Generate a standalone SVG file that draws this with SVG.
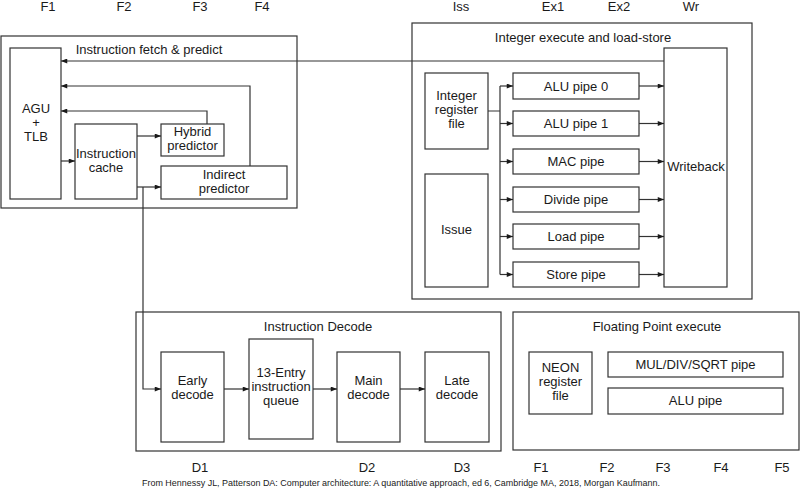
<svg xmlns="http://www.w3.org/2000/svg" width="800" height="492" viewBox="0 0 800 492">
  <style>
    text { font-family: "Liberation Sans", Arial, sans-serif; font-size: 13px; fill: #1a1a1a; text-anchor: middle; }
    .box { fill: #ffffff; stroke: #333333; stroke-width: 1.2; }
    .wire { fill: none; stroke: #333333; stroke-width: 1.2; }
    .arr { marker-end: url(#head); }
    .cap { font-size: 8.6px; }
  </style>
  <defs>
    <marker id="head" viewBox="0 0 10 8" refX="10" refY="4" markerWidth="7" markerHeight="5" markerUnits="userSpaceOnUse" orient="auto">
      <path d="M0,0 L10,4 L0,8 Z" fill="#1a1a1a"/>
    </marker>
  </defs>
  <rect width="800" height="492" fill="#ffffff"/>

  <!-- pipeline stage labels -->
  <g id="stages-top">
    <text x="48" y="11">F1</text>
    <text x="124" y="11">F2</text>
    <text x="200" y="11">F3</text>
    <text x="262" y="11">F4</text>
    <text x="461" y="11">Iss</text>
    <text x="553" y="11">Ex1</text>
    <text x="619" y="11">Ex2</text>
    <text x="691" y="11">Wr</text>
  </g>
  <g id="stages-bottom">
    <text x="200" y="472">D1</text>
    <text x="367" y="472">D2</text>
    <text x="462" y="472">D3</text>
    <text x="541" y="472">F1</text>
    <text x="607" y="472">F2</text>
    <text x="663" y="472">F3</text>
    <text x="721" y="472">F4</text>
    <text x="782" y="472">F5</text>
  </g>

  <!-- unit containers -->
  <g id="fetch-unit">
    <rect class="box" x="1" y="36" width="296" height="172"/>
    <text x="149" y="54">Instruction fetch &amp; predict</text>
  </g>
  <g id="integer-unit">
    <rect class="box" x="412" y="23" width="340" height="276"/>
    <text x="583" y="42">Integer execute and load-store</text>
  </g>
  <g id="decode-unit">
    <rect class="box" x="136" y="312" width="365" height="139"/>
    <text x="318" y="331">Instruction Decode</text>
  </g>
  <g id="fp-unit">
    <rect class="box" x="513" y="312" width="286" height="138"/>
    <text x="657" y="331">Floating Point execute</text>
  </g>

  <!-- fetch nodes -->
  <g id="agu">
    <rect class="box" x="10" y="48" width="51" height="151"/>
    <text x="36" y="113">AGU</text>
    <text x="36" y="127">+</text>
    <text x="36" y="141">TLB</text>
  </g>
  <g id="icache">
    <rect class="box" x="75" y="124" width="62" height="75"/>
    <text x="106" y="158">Instruction</text>
    <text x="106" y="172">cache</text>
  </g>
  <g id="hybrid">
    <rect class="box" x="161" y="124" width="63" height="32"/>
    <text x="192.5" y="136">Hybrid</text>
    <text x="192.5" y="150">predictor</text>
  </g>
  <g id="indirect">
    <rect class="box" x="161" y="166" width="126" height="33"/>
    <text x="224" y="179">Indirect</text>
    <text x="224" y="193">predictor</text>
  </g>

  <!-- integer nodes -->
  <g id="int-regfile">
    <rect class="box" x="425" y="73" width="63" height="76"/>
    <text x="456.5" y="100">Integer</text>
    <text x="456.5" y="114">register</text>
    <text x="456.5" y="128">file</text>
  </g>
  <g id="issue">
    <rect class="box" x="425" y="174" width="63" height="113"/>
    <text x="456.5" y="234">Issue</text>
  </g>
  <g id="alu0">
    <rect class="box" x="513" y="73" width="126" height="26"/>
    <text x="576" y="91">ALU pipe 0</text>
  </g>
  <g id="alu1">
    <rect class="box" x="513" y="111" width="126" height="25"/>
    <text x="576" y="128">ALU pipe 1</text>
  </g>
  <g id="mac">
    <rect class="box" x="513" y="149" width="126" height="25"/>
    <text x="576" y="166">MAC pipe</text>
  </g>
  <g id="divide">
    <rect class="box" x="513" y="187" width="126" height="25"/>
    <text x="576" y="204">Divide pipe</text>
  </g>
  <g id="load">
    <rect class="box" x="513" y="224" width="126" height="25"/>
    <text x="576" y="241">Load pipe</text>
  </g>
  <g id="store">
    <rect class="box" x="513" y="262" width="126" height="25"/>
    <text x="576" y="279">Store pipe</text>
  </g>
  <g id="writeback">
    <rect class="box" x="664" y="48" width="63" height="239"/>
    <text x="696" y="171">Writeback</text>
  </g>

  <!-- decode nodes -->
  <g id="early">
    <rect class="box" x="161" y="352" width="63" height="90"/>
    <text x="192.5" y="385">Early</text>
    <text x="192.5" y="399">decode</text>
  </g>
  <g id="queue">
    <rect class="box" x="249" y="339" width="64" height="100"/>
    <text x="281" y="377">13-Entry</text>
    <text x="281" y="391">instruction</text>
    <text x="281" y="405">queue</text>
  </g>
  <g id="main">
    <rect class="box" x="337" y="352" width="63" height="90"/>
    <text x="368.5" y="385">Main</text>
    <text x="368.5" y="399">decode</text>
  </g>
  <g id="late">
    <rect class="box" x="425" y="352" width="64" height="90"/>
    <text x="457" y="385">Late</text>
    <text x="457" y="399">decode</text>
  </g>

  <!-- floating point nodes -->
  <g id="neon">
    <rect class="box" x="529" y="352" width="63" height="62"/>
    <text x="560.5" y="372">NEON</text>
    <text x="560.5" y="386">register</text>
    <text x="560.5" y="400">file</text>
  </g>
  <g id="fp-muldiv">
    <rect class="box" x="608" y="352" width="175" height="25"/>
    <text x="695.5" y="369">MUL/DIV/SQRT pipe</text>
  </g>
  <g id="fp-alu">
    <rect class="box" x="608" y="388" width="175" height="26"/>
    <text x="695.5" y="405">ALU pipe</text>
  </g>

  <!-- connectors -->
  <g id="connectors">
    <path class="wire arr" d="M664,61 H61"/>
    <path class="wire arr" d="M250,166 V86 H61"/>
    <path class="wire arr" d="M207,124 V111 H61"/>
    <path class="wire arr" d="M61,161 H75"/>
    <path class="wire arr" d="M137,136 H161"/>
    <path class="wire arr" d="M137,187 H161"/>
    <path class="wire arr" d="M143,187 V389 H161"/>

    <path class="wire" d="M488,111 H500 M500,86 V274.5"/>
    <path class="wire arr" d="M500,86 H513"/>
    <path class="wire arr" d="M500,123.5 H513"/>
    <path class="wire arr" d="M500,161.5 H513"/>
    <path class="wire arr" d="M500,199.5 H513"/>
    <path class="wire arr" d="M500,236.5 H513"/>
    <path class="wire arr" d="M500,274.5 H513"/>
    <path class="wire arr" d="M639,86 H664"/>
    <path class="wire arr" d="M639,123.5 H664"/>
    <path class="wire arr" d="M639,161.5 H664"/>
    <path class="wire arr" d="M639,199.5 H664"/>
    <path class="wire arr" d="M639,236.5 H664"/>
    <path class="wire arr" d="M639,274.5 H664"/>

    <path class="wire arr" d="M224,389 H249"/>
    <path class="wire arr" d="M313,389 H337"/>
    <path class="wire arr" d="M400,389 H425"/>
  </g>

  <text class="cap" x="401" y="486" textLength="518" lengthAdjust="spacingAndGlyphs">From Hennessy JL, Patterson DA: Computer architecture: A quantitative approach, ed 6, Cambridge MA, 2018, Morgan Kaufmann.</text>
</svg>
